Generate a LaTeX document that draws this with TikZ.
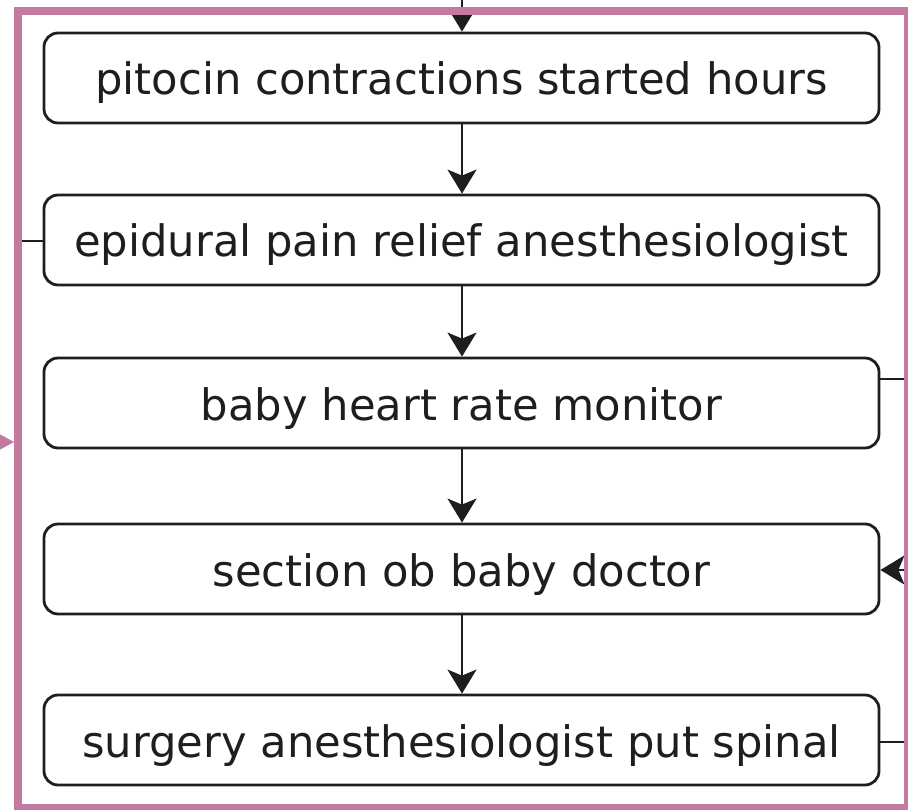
\documentclass[tikz,border=0pt]{standalone}
\usepackage{fontspec}
\setmainfont{DejaVu Sans}
\usetikzlibrary{arrows.meta}
\definecolor{frame}{RGB}{194,122,160}
\definecolor{ink}{RGB}{30,30,30}
\begin{document}
\begin{tikzpicture}[x=1pt,y=-1pt,
  stepbox/.style={draw=ink, line width=2.8pt, rounded corners=14pt, minimum width=835pt, minimum height=90pt, inner sep=0pt, text height=40pt, text depth=6pt, text=ink, font=\fontsize{43.3}{50}\selectfont},
  conn/.style={draw=ink, line width=2.6pt},
  arr/.style={conn, -{Stealth[length=24pt,width=29pt,inset=6pt]}},
  ]
\useasboundingbox (0,0) rectangle (908,810);
\clip (0,0) rectangle (908,810);
\node[stepbox] (b1) at (461.5,78) {pitocin contractions started hours};
\node[stepbox] (b2) at (461.5,240) {epidural pain relief anesthesiologist};
\node[stepbox] (b3) at (461.5,403) {baby heart rate monitor};
\node[stepbox] (b4) at (461.5,569) {section ob baby doctor};
\node[stepbox] (b5) at (461.5,740) {surgery anesthesiologist put spinal};
\coordinate (top) at (462,-20);
\coordinate (l2) at (17,241);
\coordinate (r3) at (915,379);
\coordinate (r4) at (925,570);
\coordinate (r5) at (915,742);
\coordinate (pinA) at (-30,442);
\coordinate (pinB) at (14,442);
\draw[arr] (top) -- (b1.north -| top);
\draw[arr] (b1.south -| top) -- (b2.north -| top);
\draw[arr] (b2.south -| top) -- (b3.north -| top);
\draw[arr] (b3.south -| top) -- (b4.north -| top);
\draw[arr] (b4.south -| top) -- (b5.north -| top);
\draw[conn] (l2) -- (b2.west |- l2);
\draw[conn] (b3.east |- r3) -- (r3);
\draw[arr] (r4) -- (b4.east |- r4);
\draw[conn] (b5.east |- r5) -- (r5);
\draw[frame, line width=1pt, -{Triangle[length=14pt,width=15pt]}] (pinA) -- (pinB);
\draw[frame, line width=8pt] (17.5,11) rectangle (908,807.5);
\end{tikzpicture}
\end{document}
